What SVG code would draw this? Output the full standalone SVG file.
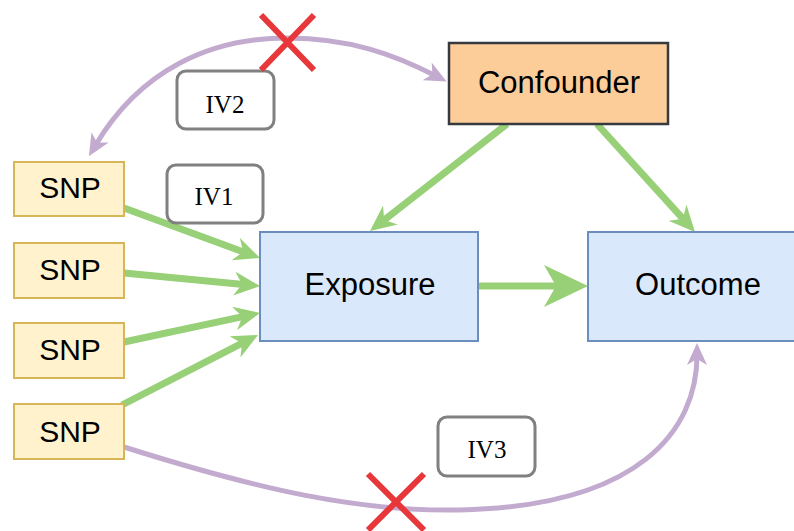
<svg xmlns="http://www.w3.org/2000/svg" width="794" height="531" viewBox="0 0 794 531">
<style>
.snp rect{fill:#fff2cc;stroke:#d6b656;stroke-width:2}
.blue rect{fill:#dae8fc;stroke:#6c8ebf;stroke-width:2}
.conf rect{fill:#fccd98;stroke:#36393d;stroke-width:2.5}
.lbl rect{fill:#fff;stroke:#808080;stroke-width:3}
.big{font-family:"Liberation Sans",Arial,sans-serif;font-size:31px;fill:#000;text-anchor:middle}
.snpt{font-family:"Liberation Sans",Arial,sans-serif;font-size:30px;fill:#000;text-anchor:middle}
.ivt{font-family:"Liberation Serif","Times New Roman",serif;font-size:25px;fill:#000;text-anchor:middle}
.g{fill:none;stroke:#97d077;stroke-width:7}
.p{fill:none;stroke:#c3abd0;stroke-width:5}
.x{stroke:#e8373a;stroke-width:6;fill:none}
</style>
<defs>
<marker id="ga" markerUnits="userSpaceOnUse" markerWidth="26" markerHeight="24" viewBox="0 0 26 24" refX="12" refY="12" orient="auto">
<path d="M0,0 L26,12 L0,24 L8,12 Z" fill="#97d077"/>
</marker>
<marker id="gb" markerUnits="userSpaceOnUse" markerWidth="44" markerHeight="42" viewBox="0 0 44 42" refX="16" refY="21" orient="auto">
<path d="M0,0 L44,21 L0,42 L12,21 Z" fill="#97d077"/>
</marker>
<marker id="pa" markerUnits="userSpaceOnUse" markerWidth="22" markerHeight="20" viewBox="0 0 22 20" refX="10" refY="10" orient="auto-start-reverse">
<path d="M0,0 L22,10 L0,20 L6,10 Z" fill="#c3abd0"/>
</marker>
</defs>
<g id="connectors">
<path class="g" d="M124,208 L246.9,253.2" marker-end="url(#ga)"/>
<path class="g" d="M124,273 L246.1,284.7" marker-end="url(#ga)"/>
<path class="g" d="M124,342 L246.3,315.9" marker-end="url(#ga)"/>
<path class="g" d="M122,405 L245.6,341.4" marker-end="url(#ga)"/>
<path class="g" d="M478,286 L560,286" stroke-width="9" marker-end="url(#gb)"/>
<path class="g" d="M507,124 L381,222.4" marker-end="url(#ga)"/>
<path class="g" d="M597,124 L685.6,221.6" marker-end="url(#ga)"/>
<path class="p" d="M95,146 C140,70 210,38 287,38 C350,38 395,55 436,76" marker-start="url(#pa)" marker-end="url(#pa)"/>
<path class="p" d="M124,447 C260,490 360,512 460,510 C640,506 697,430 697,355" marker-end="url(#pa)"/>
</g>
<g id="confounder" class="conf"><rect x="449" y="43" width="219" height="81"/><text class="big" x="559" y="93">Confounder</text></g>
<g id="exposure" class="blue"><rect x="260" y="232" width="218" height="109"/><text class="big" x="370" y="295">Exposure</text></g>
<g id="outcome" class="blue"><rect x="588" y="232" width="218" height="109"/><text class="big" x="698" y="295">Outcome</text></g>
<g id="snp1" class="snp"><rect x="14" y="162" width="110" height="54"/><text class="snpt" x="70" y="198">SNP</text></g>
<g id="snp2" class="snp"><rect x="14" y="243" width="110" height="55"/><text class="snpt" x="70" y="280">SNP</text></g>
<g id="snp3" class="snp"><rect x="14" y="323" width="110" height="55"/><text class="snpt" x="70" y="360">SNP</text></g>
<g id="snp4" class="snp"><rect x="14" y="404" width="110" height="55"/><text class="snpt" x="70" y="442">SNP</text></g>
<g id="iv1" class="lbl"><rect x="167" y="165" width="96" height="58" rx="9"/><text class="ivt" x="214" y="205">IV1</text></g>
<g id="iv2" class="lbl"><rect x="177" y="71" width="97" height="58" rx="9"/><text class="ivt" x="225" y="113">IV2</text></g>
<g id="iv3" class="lbl"><rect x="438" y="417" width="97" height="59" rx="9"/><text class="ivt" x="487" y="458">IV3</text></g>
<g id="cross1"><path class="x" d="M261,15 L314,70 M314,15 L261,70"/></g>
<g id="cross2"><path class="x" d="M368,474 L424,530 M424,474 L368,530"/></g>
</svg>
